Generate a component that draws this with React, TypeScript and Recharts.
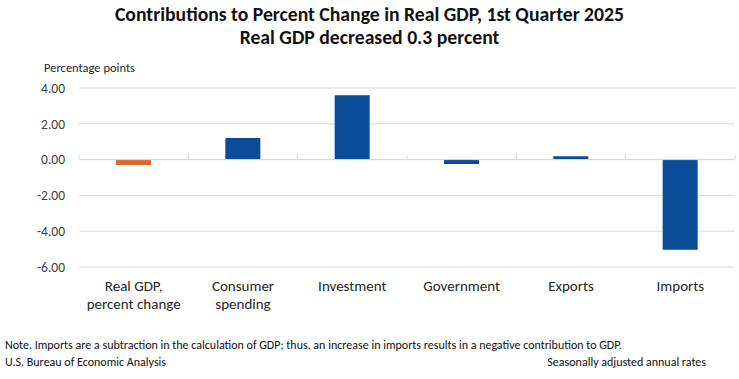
import React from 'react';
import { BarChart, Bar, XAxis, YAxis, CartesianGrid, ReferenceLine, Cell } from 'recharts';

const categories = ['Real GDP, percent change', 'Consumer spending', 'Investment', 'Government', 'Exports', 'Imports'];
const tickLines = [['Real GDP,', 'percent change'], ['Consumer', 'spending'], ['Investment'], ['Government'], ['Exports'], ['Imports']];
const contributions = [-0.3, 1.21, 3.6, -0.25, 0.19, -5.03];
const yTicks = [-6, -4, -2, 0, 2, 4];

const FONT = "Carlito, 'Liberation Sans Narrow', 'Open Sans', sans-serif";
const BLUE = '#0a4c97';
const ORANGE = '#d86a2b';
const GRID = '#d9d9d9';

const data = categories.map((name, i) => ({ name, value: contributions[i], lines: tickLines[i] }));

const CategoryTick = (props: any) => {
  const { x, y, index } = props;
  const lines = tickLines[index] || [];
  return (
    <text x={x} y={y} textAnchor="middle" fill="#262626" fontSize={15} fontFamily={FONT}>
      {lines.map((l, i) => (
        <tspan key={i} x={x} dy={i === 0 ? 16 : 18}>{l}</tspan>
      ))}
    </text>
  );
};

// zero line with small marks at category boundaries
const ZeroLine = (props: any) => {
  const { x1, x2, y1 } = props;
  const n = categories.length;
  const step = (x2 - x1) / n;
  const marks = [];
  for (let i = 0; i <= n; i++) {
    const mx = x1 + step * i;
    marks.push(<line key={i} x1={mx} x2={mx} y1={y1 - 5} y2={y1} stroke={GRID} strokeWidth={1} />);
  }
  return (
    <g>
      <line x1={x1} x2={x2} y1={y1} y2={y1} stroke={GRID} strokeWidth={1} />
      {marks}
    </g>
  );
};

export default function App() {
  return (
    <div style={{ position: 'absolute', left: 0, top: 0, width: 739, height: 379, background: '#fff', fontFamily: FONT }}>
      <div style={{ position: 'absolute', top: 3, left: 0, width: 739, textAlign: 'center', fontWeight: 'bold', fontSize: 19.7, lineHeight: '23px', color: '#111' }}>
        <div>Contributions to Percent Change in Real GDP, 1st Quarter 2025</div>
        <div>Real GDP decreased 0.3 percent</div>
      </div>
      <div style={{ position: 'absolute', left: 44, top: 60, fontSize: 12.5, color: '#262626' }}>Percentage points</div>
      <div style={{ position: 'absolute', left: 0, top: 0 }}>
        <BarChart width={739} height={330} data={data} margin={{ top: 88, right: 4, bottom: 0, left: 0 }}>
          <CartesianGrid vertical={false} stroke={GRID} />
          <XAxis dataKey="name" axisLine={false} tickLine={false} interval={0} tick={<CategoryTick />} height={63} />
          <YAxis
            domain={[-6, 4]}
            ticks={yTicks}
            width={79}
            axisLine={false}
            tickLine={false}
            tickFormatter={(v: number) => v.toFixed(2)}
            tick={{ fill: '#404040', fontSize: 13.5, fontFamily: FONT }}
            tickMargin={8}
          />
          <ReferenceLine y={0} shape={<ZeroLine />} />
          <Bar dataKey="value" barSize={35} isAnimationActive={false}>
            {data.map((d, i) => (
              <Cell key={i} fill={i === 0 ? ORANGE : BLUE} />
            ))}
          </Bar>
        </BarChart>
      </div>
      <div style={{ position: 'absolute', left: 5, top: 338, fontSize: 12, color: '#111' }}>
        Note. Imports are a subtraction in the calculation of GDP; thus, an increase in imports results in a negative contribution to GDP.
      </div>
      <div style={{ position: 'absolute', left: 5, top: 355, fontSize: 12, color: '#111' }}>U.S. Bureau of Economic Analysis</div>
      <div style={{ position: 'absolute', right: 33, top: 355, fontSize: 12, color: '#111' }}>Seasonally adjusted annual rates</div>
    </div>
  );
}
